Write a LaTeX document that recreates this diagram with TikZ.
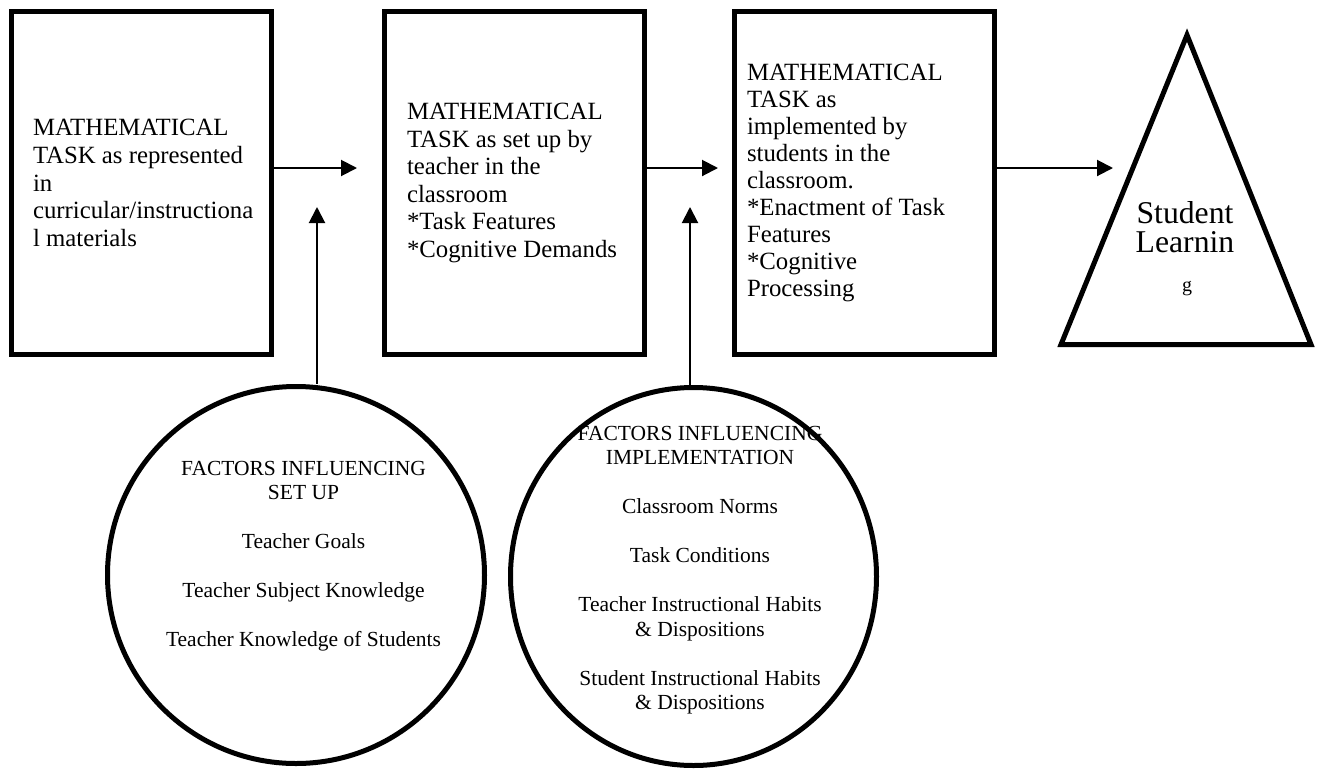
\documentclass[tikz,border=0pt]{standalone}
\usepackage{fontspec}
\setmainfont{Liberation Serif}
\usetikzlibrary{arrows.meta,shapes.geometric}
\begin{document}
\begin{tikzpicture}[x=1pt,y=-1pt,
  taskbox/.style={draw,line width=5pt,minimum width=260pt,minimum height=343pt,
    align=flush left,inner ysep=0pt,font=\fontsize{24.8}{27.6}\selectfont},
  factor/.style={draw,line width=5pt,inner sep=0pt},
  factortext/.style={inner sep=0pt,anchor=base,font=\fontsize{21.5}{24.5}\selectfont},
  flow/.style={line width=2pt,-{Triangle[length=16pt,width=16pt]}}]
\useasboundingbox (0,0) rectangle (1317,769);
\fill[white] (0,0) rectangle (1317,769);

% the three task stages
\node[taskbox,text width=217pt,inner xsep=21.5pt] (task1) at (141.5,183)
  {MATHEMATICAL\\TASK as represented\\in\\curricular/instructiona\\l materials};
\node[taskbox,text width=215pt,inner xsep=22.5pt] (task2) at (514.5,183)
  {MATHEMATICAL\\TASK as set up by\\teacher in the\\classroom\\{}*Task Features\\{}*Cognitive Demands};
\node[taskbox,text width=235pt,inner xsep=12.5pt,font=\fontsize{24.8}{27}\selectfont] (task3) at (864.5,183)
  {MATHEMATICAL\\TASK as\\implemented by\\students in the\\classroom.\\{}*Enactment of Task\\Features\\{}*Cognitive\\Processing};

% outcome triangle
\draw[line width=5pt] (1187,35) -- (1311,344.5) -- (1061,344.5) -- cycle;
\node[inner sep=0pt,anchor=base,font=\fontsize{31.7}{29}\selectfont] (learn) at (1185,223)
  {\begin{tabular}[t]{@{}c@{}}Student\\Learnin\end{tabular}};
\node[inner sep=0pt,anchor=base,font=\fontsize{20}{24}\selectfont] (learng) at (1187,291) {g};

% influencing factors
\node[factor,circle,minimum size=377pt] (setup) at (296,575) {};
\node[factor,ellipse,minimum width=366pt,minimum height=378pt] (impl) at (693.5,576.5) {};
\node[factortext] (setuptext) at (303.5,475)
  {\begin{tabular}[t]{@{}c@{}}FACTORS INFLUENCING\\SET UP\\ \\Teacher Goals\\ \\Teacher Subject Knowledge\\ \\Teacher Knowledge of Students\end{tabular}};
\node[factortext] (impltext) at (700,440)
  {\begin{tabular}[t]{@{}c@{}}FACTORS INFLUENCING\\IMPLEMENTATION\\ \\Classroom Norms\\ \\Task Conditions\\ \\Teacher Instructional Habits\\\& Dispositions\\ \\Student Instructional Habits\\\& Dispositions\end{tabular}};

% connectors
\coordinate (a1) at (357,168);
\coordinate (a2) at (718,168);
\coordinate (a3) at (1113,168);
\coordinate (v1) at (317,207);
\coordinate (v2) at (690,207);
\draw[flow] (task1.east |- a1) -- (a1);
\draw[flow] (task2.east |- a2) -- (a2);
\draw[flow] (task3.east |- a3) -- (a3);
\draw[flow] (v1 |- setup.north) -- (v1);
\draw[flow] (v2 |- impl.north) -- (v2);
\end{tikzpicture}
\end{document}
